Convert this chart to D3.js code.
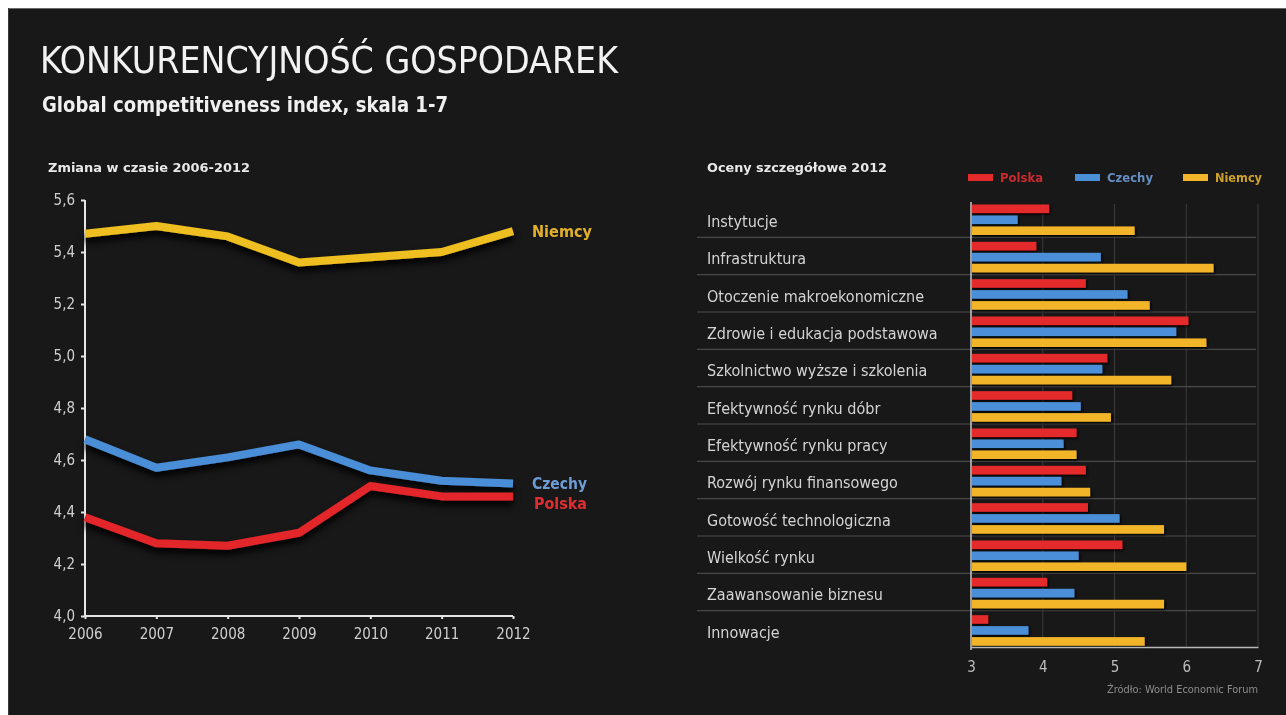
<!DOCTYPE html>
<html>
<head>
<meta charset="utf-8">
<script src="https://cdn.jsdelivr.net/npm/d3@7"></script>
<style>
  html, body { margin: 0; padding: 0; background: #ffffff; }
  svg { display: block; }
  text { font-family: "Liberation Sans Narrow", "DejaVu Sans Condensed", "Open Sans", sans-serif; }
</style>
</head>
<body>
<svg id="chart" width="1286" height="715"></svg>
<script>
// ---- data: GCI over time ----
const years = [2006, 2007, 2008, 2009, 2010, 2011, 2012];
const niemcy = [5.47, 5.50, 5.46, 5.36, 5.38, 5.40, 5.48];
const czechy = [4.68, 4.57, 4.61, 4.66, 4.56, 4.52, 4.51];
const polska = [4.38, 4.28, 4.27, 4.32, 4.50, 4.46, 4.46];
const yTicks = [4.0, 4.2, 4.4, 4.6, 4.8, 5.0, 5.2, 5.4, 5.6];

// ---- data: detailed scores 2012 ----
const categories = [
  "Instytucje",
  "Infrastruktura",
  "Otoczenie makroekonomiczne",
  "Zdrowie i edukacja podstawowa",
  "Szkolnictwo wyższe i szkolenia",
  "Efektywność rynku dóbr",
  "Efektywność rynku pracy",
  "Rozwój rynku finansowego",
  "Gotowość technologiczna",
  "Wielkość rynku",
  "Zaawansowanie biznesu",
  "Innowacje"
];
const polska2012 = [4.09, 3.91, 4.60, 6.03, 4.90, 4.41, 4.47, 4.60, 4.63, 5.11, 4.06, 3.24];
const czechy2012 = [3.65, 4.81, 5.18, 5.86, 4.83, 4.53, 4.29, 4.26, 5.07, 4.50, 4.44, 3.80];
const niemcy2012 = [5.28, 6.38, 5.49, 6.28, 5.79, 4.95, 4.47, 4.66, 5.69, 6.00, 5.69, 5.42];
const barTicks = [3, 4, 5, 6, 7];

const seriesNames = ["Polska", "Czechy", "Niemcy"];
const colors = { Polska: "#e42a2c", Czechy: "#4b8fd8", Niemcy: "#f2b52a" };
const lineColors = { Polska: "#e3262a", Czechy: "#4a8ed6", Niemcy: "#efbf22" };
const labelColors = { Polska: "#de2f30", Czechy: "#6e9dd6", Niemcy: "#e3b02c" };

const svg = d3.select("#chart");
const defs = svg.append("defs");

const shadow = defs.append("filter").attr("id", "lineShadow")
  .attr("x", "-10%").attr("y", "-60%").attr("width", "120%").attr("height", "220%");
shadow.append("feDropShadow").attr("dx", 0).attr("dy", 5).attr("stdDeviation", 3.5)
  .attr("flood-color", "#000").attr("flood-opacity", 1);

const barShadow = defs.append("filter").attr("id", "barShadow")
  .attr("x", "-5%").attr("y", "-50%").attr("width", "110%").attr("height", "220%");
barShadow.append("feDropShadow").attr("dx", 1.5).attr("dy", 1.5).attr("stdDeviation", 1)
  .attr("flood-color", "#000").attr("flood-opacity", 0.9);

const soft = defs.append("filter").attr("id", "soft");
soft.append("feGaussianBlur").attr("stdDeviation", 0.45);

// dark panel
svg.append("rect").attr("x", 8).attr("y", 8).attr("width", 1278).attr("height", 707).attr("fill", "#181818");
svg.append("line").attr("x1", 8).attr("x2", 1286).attr("y1", 8.5).attr("y2", 8.5).attr("stroke", "#6a6a6a").attr("stroke-width", 1);
svg.append("line").attr("x1", 8.5).attr("x2", 8.5).attr("y1", 8).attr("y2", 715).attr("stroke", "#3a3a3a").attr("stroke-width", 1);

const root = svg.append("g").attr("filter", "url(#soft)");

// titles
root.append("text").attr("x", 40).attr("y", 73)
  .attr("font-size", 37).attr("fill", "#f2f2f2")
  .attr("textLength", 578).attr("lengthAdjust", "spacingAndGlyphs")
  .text("KONKURENCYJNOŚĆ GOSPODAREK");
root.append("text").attr("x", 42).attr("y", 112)
  .attr("font-size", 21).attr("font-weight", "bold").attr("fill", "#f0f0f0")
  .attr("textLength", 406).attr("lengthAdjust", "spacingAndGlyphs")
  .text("Global competitiveness index, skala 1-7");
root.append("text").attr("x", 48).attr("y", 172)
  .attr("font-size", 13).attr("font-weight", "bold").attr("fill", "#e8e8e8")
  .attr("textLength", 202).attr("lengthAdjust", "spacingAndGlyphs")
  .text("Zmiana w czasie 2006-2012");
root.append("text").attr("x", 707).attr("y", 172)
  .attr("font-size", 13).attr("font-weight", "bold").attr("fill", "#e8e8e8")
  .attr("textLength", 180).attr("lengthAdjust", "spacingAndGlyphs")
  .text("Oceny szczegółowe 2012");

// ---- line chart ----
const x = d3.scalePoint().domain(years).range([85, 513]);
const y = d3.scaleLinear().domain([4.0, 5.6]).range([616, 200]);
const fmt = v => d3.format(".1f")(v).replace(".", ",");

const yAxis = root.append("g").attr("transform", "translate(85,0)")
  .call(d3.axisLeft(y).tickValues(yTicks).tickFormat(fmt).tickSize(4).tickPadding(6));
const xAxis = root.append("g").attr("transform", "translate(0,616)")
  .call(d3.axisBottom(x).tickFormat(d3.format("d")).tickSize(3).tickPadding(9));
[yAxis, xAxis].forEach(a => {
  a.select(".domain").attr("stroke", "#e6e6e6").attr("stroke-width", 2);
  a.selectAll(".tick line").attr("stroke", "#e6e6e6").attr("stroke-width", 2);
  a.selectAll(".tick text").attr("fill", "#cfcfcf").attr("font-size", 15)
    .style("font-family", "'Liberation Sans Narrow','DejaVu Sans Condensed',sans-serif");
});
xAxis.select(".domain").attr("d", "M85,0H513");
yAxis.select(".domain").attr("d", "M0,200V616");

const lineGen = d3.line().x((d, i) => x(years[i])).y(d => y(d));
const lineSeries = [["Niemcy", niemcy], ["Czechy", czechy], ["Polska", polska]];
root.append("g").selectAll("path").data(lineSeries).join("path")
  .attr("d", d => lineGen(d[1]))
  .attr("fill", "none")
  .attr("stroke", d => lineColors[d[0]])
  .attr("stroke-width", 8)
  .attr("stroke-linejoin", "round")
  .attr("filter", "url(#lineShadow)");

const endLabels = [
  { name: "Niemcy", dy: 6, dx: 19, w: 60 },
  { name: "Czechy", dy: 6, dx: 19, w: 55 },
  { name: "Polska", dy: 13, dx: 21, w: 53 }
];
const lastVal = { Niemcy: niemcy[niemcy.length - 1], Czechy: czechy[czechy.length - 1], Polska: polska[polska.length - 1] };
root.append("g").selectAll("text").data(endLabels).join("text")
  .attr("x", d => x(2012) + d.dx)
  .attr("y", d => y(lastVal[d.name]) + d.dy)
  .attr("font-size", 15).attr("font-weight", "bold")
  .attr("textLength", d => d.w).attr("lengthAdjust", "spacingAndGlyphs")
  .attr("fill", d => labelColors[d.name])
  .text(d => d.name);

// ---- bar chart ----
const bx = d3.scaleLinear().domain([3, 7]).range([971, 1258]);
const band = d3.scaleBand().domain(categories).range([200, 648]);
const inner = d3.scaleBand().domain(seriesNames).range([4.5, 35]).paddingInner(0.22);

// vertical grid
root.append("g").selectAll("line").data(barTicks.slice(1)).join("line")
  .attr("x1", d => bx(d)).attr("x2", d => bx(d))
  .attr("y1", 204).attr("y2", 647)
  .attr("stroke", "#383838").attr("stroke-width", 1.2);

// row separators
root.append("g").selectAll("line").data(categories.slice(1)).join("line")
  .attr("x1", 697).attr("x2", 1256)
  .attr("y1", d => band(d)).attr("y2", d => band(d))
  .attr("stroke", "#4a4a4a").attr("stroke-width", 1.2);

// category labels
root.append("g").selectAll("text").data(categories).join("text")
  .attr("x", 707).attr("y", d => band(d) + 27)
  .attr("font-size", 16).attr("fill", "#d4d4d4")
  .text(d => d);

// bars
const barRows = categories.map((c, i) => ({
  cat: c,
  vals: [["Polska", polska2012[i]], ["Czechy", czechy2012[i]], ["Niemcy", niemcy2012[i]]]
}));
const rows = root.append("g").selectAll("g").data(barRows).join("g")
  .attr("transform", d => `translate(0,${band(d.cat)})`);
rows.selectAll("rect").data(d => d.vals).join("rect")
  .attr("x", bx(3) + 1)
  .attr("y", d => inner(d[0]))
  .attr("width", d => bx(d[1]) - bx(3) - 1)
  .attr("height", inner.bandwidth())
  .attr("fill", d => colors[d[0]])
  .attr("filter", "url(#barShadow)");

// axis
const bAxis = root.append("g").attr("transform", "translate(0,647)")
  .call(d3.axisBottom(bx).tickValues(barTicks).tickFormat(d3.format("d")).tickSize(0).tickPadding(14));
bAxis.select(".domain").attr("stroke", "#b8b8b8").attr("stroke-width", 1.5);
bAxis.selectAll(".tick text").attr("fill", "#bdbdbd").attr("font-size", 15)
  .style("font-family", "'Liberation Sans Narrow','DejaVu Sans Condensed',sans-serif");
root.append("line").attr("x1", bx(3)).attr("x2", bx(3)).attr("y1", 202).attr("y2", 650)
  .attr("stroke", "#c8c8c8").attr("stroke-width", 1.5);

// legend
const legendX = { Polska: 968, Czechy: 1075, Niemcy: 1183 };
const legendW = { Polska: 43, Czechy: 46, Niemcy: 47 };
const leg = root.append("g").selectAll("g").data(seriesNames).join("g")
  .attr("transform", d => `translate(${legendX[d]},174)`);
leg.append("rect").attr("width", 25).attr("height", 7).attr("fill", d => colors[d]);
leg.append("text").attr("x", 32).attr("y", 8)
  .attr("font-size", 12).attr("font-weight", "bold")
  .attr("textLength", d => legendW[d]).attr("lengthAdjust", "spacingAndGlyphs")
  .attr("fill", d => labelColors[d]).attr("opacity", 0.9)
  .text(d => d);

// source
root.append("text").attr("x", 1258).attr("y", 693).attr("text-anchor", "end")
  .attr("font-size", 11).attr("fill", "#8c8c8c")
  .attr("textLength", 151).attr("lengthAdjust", "spacingAndGlyphs")
  .text("Źródło: World Economic Forum");
</script>
</body>
</html>
